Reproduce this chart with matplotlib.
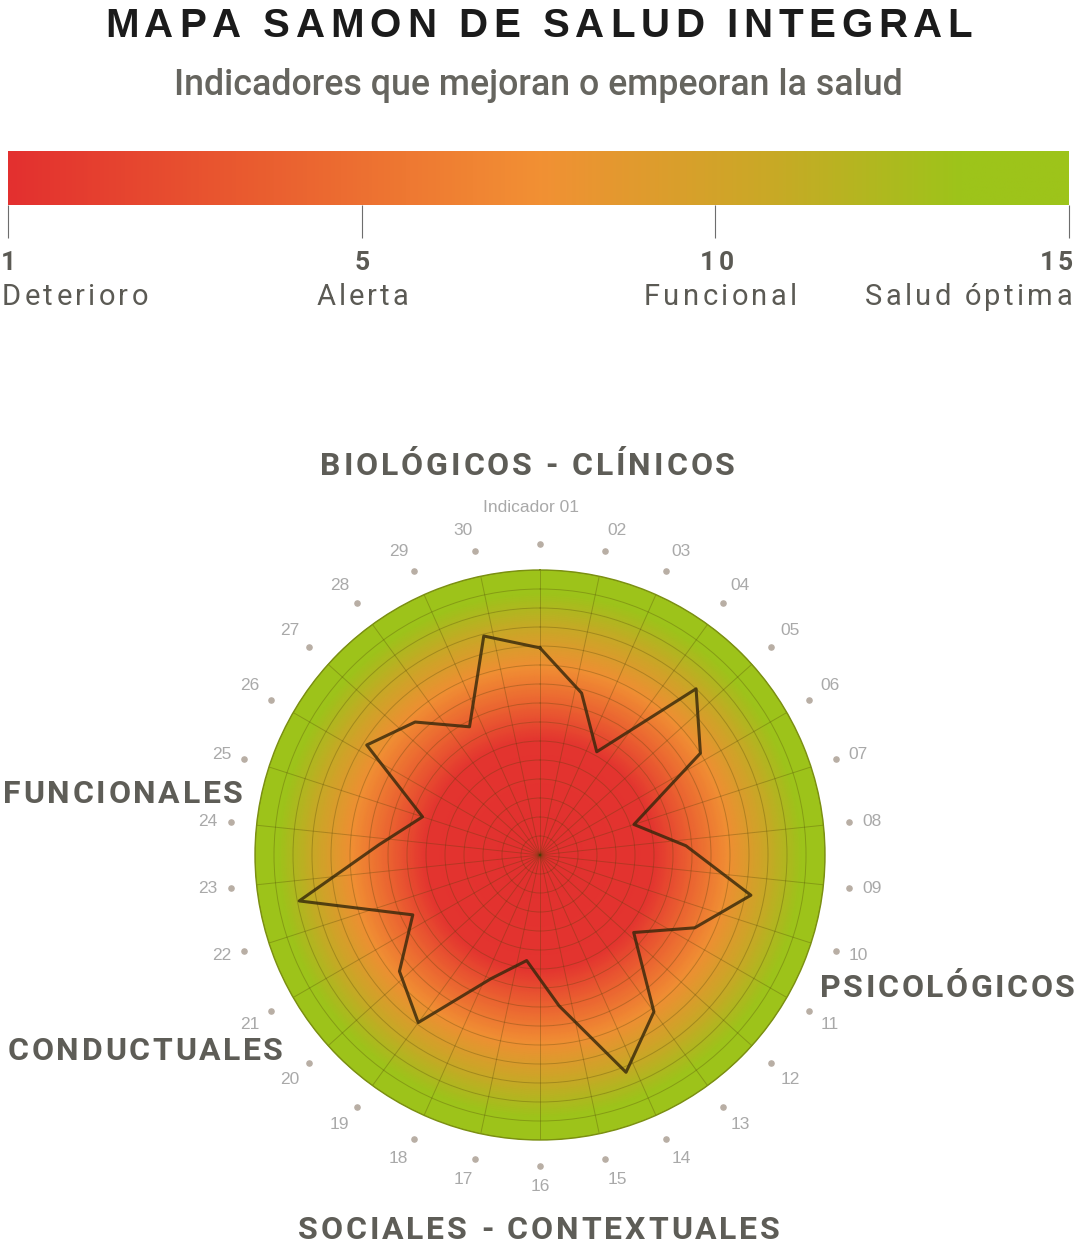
import numpy as np
import matplotlib
matplotlib.use("Agg")
import matplotlib.pyplot as plt
from matplotlib.colors import LinearSegmentedColormap
from matplotlib.font_manager import FontProperties
from matplotlib.transforms import offset_copy

W, H = 1077, 1247

# barra de escala
escala_valores = ["1", "5", "10", "15"]
escala_nombres = ["Deterioro", "Alerta", "Funcional", "Salud óptima"]

# indicadores alrededor del radar
indicadores = ["Indicador 01"] + ["%02d" % i for i in range(2, 31)]

# puntajes del poligono (25 vertices)
puntajes = [10.9, 8.8, 6.2, 12.0, 10.0, 5.2, 7.7, 11.3, 9.0, 6.4,
            10.2, 12.3, 8.0, 5.6, 7.0, 10.9, 9.6, 7.4, 12.9, 8.5,
            6.5, 10.8, 9.6, 7.7, 11.9]

dimensiones = ["BIOLÓGICOS - CLÍNICOS", "PSICOLÓGICOS", "SOCIALES - CONTEXTUALES",
               "CONDUCTUALES", "FUNCIONALES"]

RMAX = 15

fig = plt.figure(figsize=(W / 100, H / 100), dpi=100)
rend = fig.canvas.get_renderer()


def px(x, y):
    return x / W, 1 - y / H


def spaced(s, x0, x1, base, fp, color):
    # texto con espaciado entre letras, ocupando x0..x1
    def w(t):
        return rend.get_text_width_height_descent(t, fp, ismath=False)[0]
    adv = [w("I" + c + "I") - w("II") for c in s]
    gap = (x1 - x0 - sum(adv)) / max(len(s) - 1, 1)
    x = x0
    for c, a in zip(s, adv):
        fig.text(*px(x, base), c, fontproperties=fp, color=color, ha="left", va="baseline")
        x += a + gap


# titulo y subtitulo
fp_t = FontProperties(family="Liberation Sans", weight="bold", size=29)
spaced("MAPA SAMON DE SALUD INTEGRAL", 105, 972, 37, fp_t, "#1b1b1b")

sub = "Indicadores que mejoran o empeoran la salud"
fp_s = FontProperties(family="Roboto", weight="medium", size=24)
w0 = rend.get_text_width_height_descent(sub, fp_s, ismath=False)[0]
fp_s.set_size(24 * 730 / w0)
fig.text(*px(538, 95), sub, fontproperties=fp_s, color="#66655f", ha="center", va="baseline")

# barra de colores
barra = LinearSegmentedColormap.from_list(
    "barra", [(0, "#e3302f"), (0.25, "#ea6030"), (0.5, "#f29034"), (0.72, "#c9a926"),
              (0.9, "#9dc41a"), (1, "#9dc41a")])
cax = fig.add_axes([8 / W, 1 - 205 / H, 1061 / W, 54 / H])
cax.imshow(np.linspace(0, 1, 600)[None, :], cmap=barra, aspect="auto",
           extent=[0, len(escala_valores) - 1, 0, 1])
cax.set_xticks(range(len(escala_valores)))
cax.set_xticklabels([])
cax.set_yticks([])
cax.tick_params(axis="x", length=24, width=0.8, color="#6d6d6d", direction="out")
for sp in cax.spines.values():
    sp.set_visible(False)

fp_n = FontProperties(family="Roboto", weight="bold", size=19)
fp_w = FontProperties(family="Roboto", size=21)
gris = "#5b5a54"
fig.text(*px(1, 270), escala_valores[0], fontproperties=fp_n, color=gris, ha="left", va="baseline")
fig.text(*px(362, 270), escala_valores[1], fontproperties=fp_n, color=gris, ha="center", va="baseline")
spaced(escala_valores[2], 700, 734, 270, fp_n, gris)
spaced(escala_valores[3], 1040, 1073, 270, fp_n, gris)
for nom, (a, b) in zip(escala_nombres, [(2, 148), (317, 408), (644, 797), (865, 1072)]):
    spaced(nom, a, b, 305, fp_w, gris)

# radar
R, cx, cy = 285, 540, 855
ax = fig.add_axes([(cx - R) / W, (H - cy - R) / H, 2 * R / W, 2 * R / H], projection="polar")
ax.set_theta_zero_location("N")
ax.set_theta_direction(-1)
ax.set_facecolor("none")

radial = LinearSegmentedColormap.from_list(
    "radial", [(0, "#e2302f"), (0.40, "#e3342f"), (0.52, "#ea5e30"), (0.66, "#f08e33"),
               (0.80, "#c8a826"), (0.92, "#9dc31a"), (1, "#9dc31a")])
th = np.linspace(0, 2 * np.pi, 241)
rr = np.linspace(0, RMAX, 150)
T, RR = np.meshgrid(th, rr)
ax.pcolormesh(T, RR, RR / RMAX, cmap=radial, shading="gouraud", vmin=0, vmax=1)

n_ind = len(indicadores)
ang_ind = np.deg2rad(np.arange(n_ind) * 360 / n_ind)
ax.set_xticks(ang_ind)
ax.set_yticks(np.arange(1, RMAX + 1))
ax.set_xticklabels([])
ax.set_yticklabels([])
ax.grid(True, color="#4d4008", alpha=0.3, lw=0.7)
ax.set_ylim(0, RMAX)
ax.spines["polar"].set_color("#7b8f12")
ax.spines["polar"].set_linewidth(1)

ang = np.linspace(0, 2 * np.pi, len(puntajes), endpoint=False)
ax.plot(np.append(ang, ang[0]), puntajes + puntajes[:1], color="#33260a", alpha=0.8, lw=2.2)

# etiquetas de indicadores
ax.scatter(ang_ind, np.full(n_ind, 311 / R * RMAX), s=14, color="#b8aea4", clip_on=False, zorder=3)
fp_i = FontProperties(family="Liberation Sans", size=12.5)
for i, (a, lab) in enumerate(zip(ang_ind, indicadores)):
    if i == 0:
        tr = offset_copy(ax.transData, fig=fig, x=-9, y=0, units="dots")
        ax.text(a, 348 / R * RMAX, lab, transform=tr, fontproperties=fp_i, color="#a9a9a9",
                ha="center", va="center", clip_on=False)
        continue
    s, c = np.sin(a), np.cos(a)
    ha = "center" if abs(s) < 0.05 else ("left" if s > 0 else "right")
    va = "center" if abs(c) < 0.35 else ("bottom" if c > 0 else "top")
    ax.text(a, 324 / R * RMAX, lab, fontproperties=fp_i, color="#a9a9a9",
            ha=ha, va=va, clip_on=False)

# dimensiones
fp_d = FontProperties(family="Roboto", weight="bold", size=23)
pos_dim = [(320, 735, 475), (820, 1075, 997), (298, 780, 1239), (8, 283, 1060), (3, 243, 803)]
for nom, (a, b, base) in zip(dimensiones, pos_dim):
    spaced(nom, a, b, base, fp_d, "#5e5d57")

fig.savefig("out.png", dpi=100)
